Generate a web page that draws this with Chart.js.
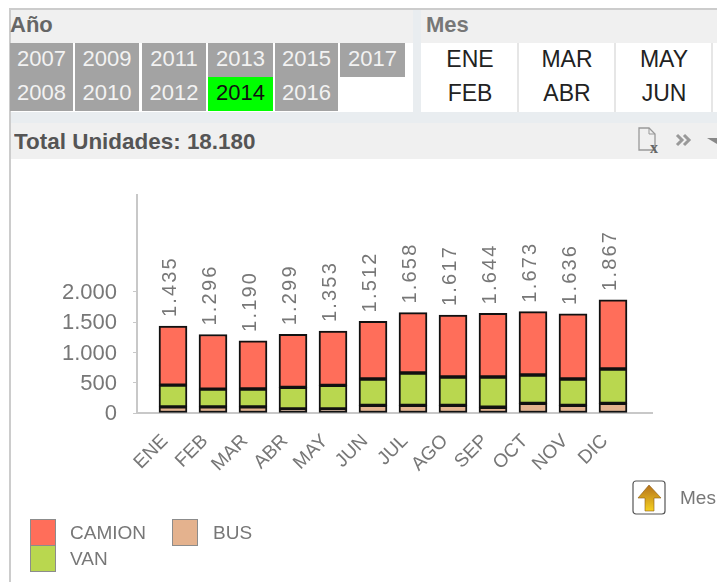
<!DOCTYPE html>
<html><head><meta charset="utf-8">
<script src="https://cdn.jsdelivr.net/npm/chart.js@4"></script>
<style>
html,body{margin:0;padding:0;background:#fff;overflow:hidden}
body{width:717px;height:582px;position:relative;font-family:"Liberation Sans",Arial,sans-serif}
.a{position:absolute}
.cell{position:absolute;height:34px;line-height:32px;text-align:center;font-size:22px}
.yr{background:#a3a3a3;color:#f2f2f2}
.mo{color:#222;width:96px;font-size:23px}
.lg{position:absolute;width:24px;height:25px;border:1px solid #8c8c8c}
.lt{position:absolute;font-size:19px;color:#777;line-height:24px}
</style></head><body>
<div class="a" style="left:9px;top:8px;width:708px;height:2px;background:#ccc"></div>
<div class="a" style="left:9px;top:8px;width:2px;height:574px;background:#ccc"></div>
<div class="a" style="left:11px;top:10px;width:706px;height:33px;background:#f0f0f0"></div>
<div class="a" style="left:11px;top:43px;width:706px;height:69px;background:#f0f0f0"></div>
<div class="a" style="left:11px;top:43px;width:402px;height:69px;background:#fff"></div>
<div class="a" style="left:421px;top:43px;width:296px;height:69px;background:#fff"></div>
<div class="a" style="left:413px;top:10px;width:8px;height:102px;background:#e9edf0"></div>
<div class="a" style="left:11px;top:112px;width:706px;height:11px;background:#e9edf0"></div>
<div class="a" style="left:11px;top:123px;width:706px;height:36px;background:#f0f0f0"></div>
<div class="a" style="left:10px;top:12px;font-size:22px;font-weight:bold;color:#666;line-height:26px">Año</div>
<div class="a" style="left:426px;top:12px;font-size:22px;font-weight:bold;color:#777;line-height:26px">Mes</div>
<div class="a" style="left:14px;top:128px;font-size:22px;font-weight:bold;color:#555;line-height:28px;white-space:nowrap;transform:scaleX(1.02);transform-origin:left">Total Unidades: 18.180</div>
<div id="filters"></div>
<svg class="a" style="left:636px;top:126px" width="81" height="30" viewBox="0 0 81 30">
<path d="M3 2H13L19 8V24H3Z" fill="none" stroke="#999" stroke-width="1.3"/><path d="M13 2V8H19" fill="none" stroke="#999"/>
<text x="14" y="27" font-family="Liberation Serif" font-size="16" font-weight="bold" fill="#666">x</text>
<path d="M41 9l5 5-5 5M48 9l5 5-5 5" fill="none" stroke="#999" stroke-width="3"/>
<path d="M71 12h10v6z" fill="#888"/></svg>
<canvas id="c" class="a" style="left:10px;top:160px" width="707" height="422"></canvas>
<div id="legend"></div>
<svg class="a" style="left:631px;top:479px" width="38" height="38" viewBox="0 0 38 38">
<defs><linearGradient id="g" x1="0" x2="0" y1="0" y2="1"><stop offset="0" stop-color="#b5721c"/><stop offset="1" stop-color="#f5d020"/></linearGradient></defs>
<rect x="2" y="2" width="32" height="33" rx="3" fill="#fff" stroke="#555" stroke-width="1.2"/>
<path d="M18 6L30 19H23V32H14V19H7Z" fill="url(#g)" stroke="#8a5a14" stroke-width=".6"/></svg>
<div class="a" style="left:680px;top:486px;font-size:19px;color:#777;line-height:24px">Mes</div>
<script>
const months=['ENE','FEB','MAR','ABR','MAY','JUN','JUL','AGO','SEP','OCT','NOV','DIC'];
const camion=[975,901,793,875,896,950,997,1022,1049,1045,1074,1140];
const van=[360,295,297,358,391,435,534,468,500,468,435,567];
const bus=[100,100,100,66,66,127,127,127,95,160,127,160];
const totals=[1435,1296,1190,1299,1353,1512,1658,1617,1644,1673,1636,1867];
const yTicks=[0,500,1000,1500,2000];
const yearCols=[['2007','2008'],['2009','2010'],['2011','2012'],['2013','2014'],['2015','2016'],['2017']];
const monthCols=[['ENE','FEB'],['MAR','ABR'],['MAY','JUN']];
const selectedYear='2014';
const colors={CAMION:'#ff6e5a',VAN:'#b9d74f',BUS:'#e4b28e'};
const fmt=v=>String(v).replace(/\B(?=(\d{3})+$)/g,'.');

const f=document.getElementById('filters');
const yearX=[[10,63],[75,64],[142,64],[208,65],[275,63],[340,65]];
yearCols.forEach((col,i)=>col.forEach((t,j)=>{
  const d=document.createElement('div');d.className='cell yr';d.textContent=t;
  d.style.left=yearX[i][0]+'px';d.style.width=yearX[i][1]+'px';d.style.top=(43+j*34)+'px';
  if(t===selectedYear){d.style.background='#00ff00';d.style.color='#111';}
  f.appendChild(d);
}));
const monX=[422,519,616];
monX.forEach((x,i)=>monthCols[i].forEach((t,j)=>{
  const d=document.createElement('div');d.className='cell mo';d.textContent=t;
  d.style.left=x+'px';d.style.top=(43+j*34)+'px';f.appendChild(d);
}));
[517,614,711].forEach(x=>{const s=document.createElement('div');s.className='a';
  s.style.cssText=`left:${x}px;top:43px;width:2px;height:69px;background:#e6e6e6`;f.appendChild(s);});

const lg=document.getElementById('legend');
[['CAMION',30,519,70],['VAN',30,545,70],['BUS',172,519,213]].forEach(([n,x,y,tx])=>{
  const b=document.createElement('div');b.className='lg';b.style.cssText=`left:${x}px;top:${y}px;background:${colors[n]}`;lg.appendChild(b);
  const t=document.createElement('div');t.className='lt';t.textContent=n;t.style.left=tx+'px';t.style.top=(y+2)+'px';lg.appendChild(t);
});

const pts=a=>a.map((v,i)=>({x:i,y:v}));
const ds=(label,arr)=>({label,data:pts(arr),backgroundColor:colors[label],borderColor:'#111',borderWidth:2,borderSkipped:false,barThickness:28});
const totalLabels={id:'totalLabels',afterDatasetsDraw(ch){
  const {ctx,scales:{x,y}}=ch;ctx.save();ctx.font='20px "Liberation Sans"';ctx.fillStyle='#777';
  ctx.letterSpacing='2.2px';ctx.textAlign='left';ctx.textBaseline='middle';
  totals.forEach((v,i)=>{ctx.save();ctx.translate(x.getPixelForValue(i)-3,y.getPixelForValue(v)-9);ctx.rotate(-Math.PI/2);ctx.fillText(fmt(v),0,0);ctx.restore();});
  ctx.restore();
}};
new Chart(document.getElementById('c'),{type:'bar',
 data:{datasets:[ds('BUS',bus),ds('VAN',van),ds('CAMION',camion)]},
 plugins:[totalLabels],
 options:{responsive:false,animation:false,
  layout:{padding:{left:0,right:65,top:35,bottom:0}},
  plugins:{legend:{display:false},tooltip:{enabled:false}},
  scales:{
   x:{type:'linear',stacked:true,offset:false,min:-0.9,max:11.975,
      afterBuildTicks(s){s.ticks=months.map((m,i)=>({value:i}));},
      afterFit(s){s.height=169;},
      grid:{display:false},border:{color:'#c8c8c8',width:2},
      ticks:{autoSkip:false,maxRotation:45,minRotation:45,color:'#777',font:{size:19,family:'"Liberation Sans"'},padding:9,labelOffset:-8,callback:v=>months[v]}},
   y:{stacked:true,min:0,max:3600,
      afterBuildTicks(s){s.ticks=yTicks.map(v=>({value:v}));},
      afterFit(s){s.width=127;},
      grid:{drawOnChartArea:false,color:'#c8c8c8',tickLength:4},border:{color:'#c8c8c8',width:2},
      ticks:{color:'#777',font:{size:22,family:'"Liberation Sans"'},padding:16,labelOffset:1,callback:v=>fmt(v)}}
  }}});
</script>
</body></html>
